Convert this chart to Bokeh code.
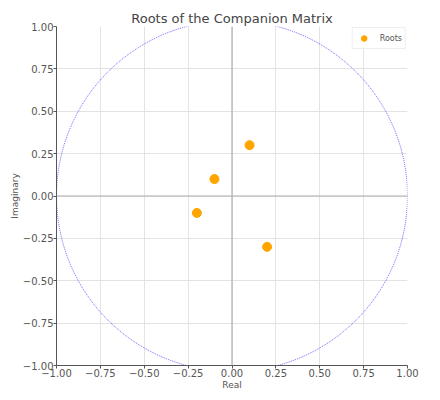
from bokeh.plotting import figure
from bokeh.models import Range1d, Span, FixedTicker, CustomJSTickFormatter, Legend, LegendItem
from bokeh.embed import file_html
from bokeh.resources import INLINE

# data
roots_real = [0.1, -0.1, -0.2, 0.2]
roots_imag = [0.3, 0.1, -0.1, -0.3]
tick_values = [-1.0, -0.75, -0.5, -0.25, 0.0, 0.25, 0.5, 0.75, 1.0]
unit_radius = 1.0

FONT = "DejaVu Sans"

p = figure(width=432, height=392, output_backend="svg", toolbar_location=None,
           x_range=Range1d(-1, 1), y_range=Range1d(-1, 1),
           min_border_left=56, min_border_top=26, min_border_right=25, min_border_bottom=0)

p.title.text = "Roots of the Companion Matrix"
p.title.align = "center"
p.title.text_font = FONT
p.title.text_font_size = "13px"
p.title.text_font_style = "normal"
p.title.text_color = "#444444"
p.title.standoff = 2

p.outline_line_color = None
p.background_fill_color = "white"

fmt = CustomJSTickFormatter(code="""
var v = Math.abs(tick) < 1e-9 ? 0 : tick;
return (v < 0 ? '\\u2212' : '') + Math.abs(v).toFixed(2);
""")

for ax in (p.xaxis[0], p.yaxis[0]):
    ax.ticker = FixedTicker(ticks=tick_values)
    ax.formatter = fmt
    ax.major_label_text_font = FONT
    ax.major_label_text_font_size = "10px"
    ax.major_label_text_color = "#555555"
    ax.axis_label_text_font = FONT
    ax.axis_label_text_font_size = "9px"
    ax.axis_label_text_font_style = "normal"
    ax.axis_label_text_color = "#555555"
    ax.axis_line_color = "#555555"
    ax.major_tick_line_color = "#555555"
    ax.major_tick_out = 3
    ax.major_tick_in = 0
    ax.minor_tick_line_color = None
    ax.major_label_standoff = 0
    ax.axis_label_standoff = 0

p.xaxis.axis_label = "Real"
p.yaxis.axis_label = "Imaginary"

p.grid.grid_line_color = "#e3e3e3"
p.xgrid.ticker = FixedTicker(ticks=tick_values)
p.ygrid.ticker = FixedTicker(ticks=tick_values)

p.add_layout(Span(location=0, dimension="width", line_color="#b0b0b0", line_width=1.2))
p.add_layout(Span(location=0, dimension="height", line_color="#b0b0b0", line_width=1.2))

p.circle(x=[0], y=[0], radius=unit_radius, fill_color=None, line_color="blue",
         line_alpha=0.6, line_dash="1 1", line_width=1)

r = p.scatter(roots_real, roots_imag, size=9, color="orange", line_color="orange")

legend = Legend(items=[LegendItem(label="Roots", renderers=[r])], location="top_right")
legend.label_text_font = FONT
legend.label_text_font_size = "8px"
legend.label_text_color = "#555555"
legend.border_line_color = "#dddddd"
legend.padding = 3
legend.spacing = 0
legend.glyph_width = 16
legend.glyph_height = 14
legend.margin = 1
legend.label_standoff = 8
p.add_layout(legend)

open("out.html", "w").write(file_html(p, INLINE))
